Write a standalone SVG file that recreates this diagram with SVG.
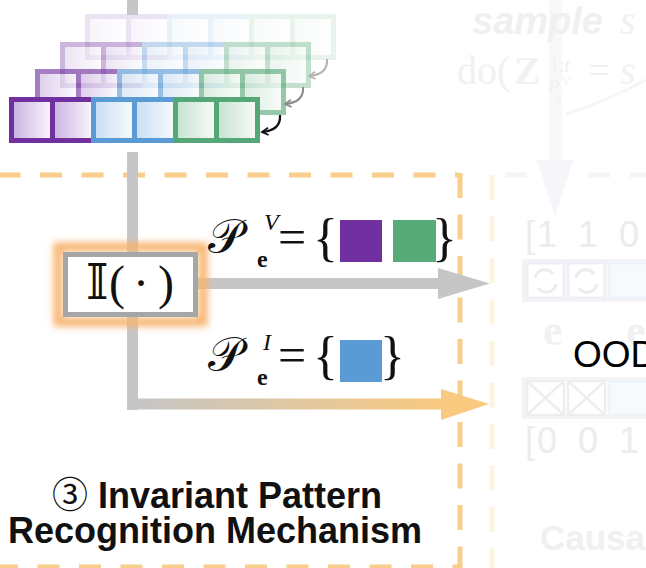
<svg xmlns="http://www.w3.org/2000/svg" width="646" height="568" viewBox="0 0 646 568">
  <style>
    .bar{fill:#C6C6C6}
    .dash{fill:none;stroke:#F8CE8A;stroke-width:5}
    .math{font-family:"Liberation Serif","DejaVu Serif",serif;fill:#111}
    .sans{font-family:"Liberation Sans","Noto Sans CJK SC",sans-serif}
    .ghost{fill:#F0F0F0}
  </style>
  <defs>
    <linearGradient id="gPur" x1="0" x2="1" y1="0" y2="0">
      <stop offset="0" stop-color="#C9B1DF"/><stop offset="1" stop-color="#FBF8FD"/>
    </linearGradient>
    <linearGradient id="gBlu" x1="0" x2="1" y1="0" y2="0">
      <stop offset="0" stop-color="#C8DCF2"/><stop offset="1" stop-color="#F8FBFE"/>
    </linearGradient>
    <linearGradient id="gGrn" x1="0" x2="1" y1="0" y2="0">
      <stop offset="0" stop-color="#C5E2D0"/><stop offset="1" stop-color="#F8FCF9"/>
    </linearGradient>
    <linearGradient id="gFlow" gradientUnits="userSpaceOnUse" x1="135" y1="0" x2="440" y2="0">
      <stop offset="0" stop-color="#C6C6C6"/><stop offset="1" stop-color="#F8C97F"/>
    </linearGradient>
    <filter id="glow" x="-20%" y="-40%" width="140%" height="180%">
      <feGaussianBlur stdDeviation="3.5"/>
    </filter>
    <marker id="hBlack" viewBox="0 0 10 10" refX="8" refY="5" markerWidth="9" markerHeight="9" markerUnits="userSpaceOnUse" orient="auto">
      <path d="M1,1 L8,5 L1,9" fill="none" stroke="#111" stroke-width="2"/>
    </marker>
    <marker id="hGray" viewBox="0 0 10 10" refX="8" refY="5" markerWidth="9" markerHeight="9" markerUnits="userSpaceOnUse" orient="auto">
      <path d="M1,1 L8,5 L1,9" fill="none" stroke="#8C8C8C" stroke-width="2"/>
    </marker>
    <marker id="hLight" viewBox="0 0 10 10" refX="8" refY="5" markerWidth="9" markerHeight="9" markerUnits="userSpaceOnUse" orient="auto">
      <path d="M1,1 L8,5 L1,9" fill="none" stroke="#B4B4B4" stroke-width="2"/>
    </marker>
    <!-- one sequence of six cells: two purple, two blue, two green -->
    <g id="seq">
      <rect x="2.5" y="2.5" width="41" height="41" fill="url(#gPur)" stroke="#7030A0" stroke-width="5"/>
      <rect x="43.5" y="2.5" width="41" height="41" fill="url(#gPur)" stroke="#7030A0" stroke-width="5"/>
      <rect x="84.5" y="2.5" width="41" height="41" fill="url(#gBlu)" stroke="#5B9BD5" stroke-width="5"/>
      <rect x="125.5" y="2.5" width="41" height="41" fill="url(#gBlu)" stroke="#5B9BD5" stroke-width="5"/>
      <rect x="166.5" y="2.5" width="41" height="41" fill="url(#gGrn)" stroke="#56A777" stroke-width="5"/>
      <rect x="207.5" y="2.5" width="41" height="41" fill="url(#gGrn)" stroke="#56A777" stroke-width="5"/>
    </g>
  </defs>

  <rect width="646" height="568" fill="#FFFFFF"/>

  <!-- faded neighbouring panel -->
  <g id="faded-panel">
    <path d="M492,175 V568" fill="none" stroke="#FDF3E3" stroke-width="5" stroke-dasharray="25 16.5"/>
    <path d="M505,175 H646" fill="none" stroke="#F6F4F8" stroke-width="5" stroke-dasharray="22 19.5"/>
    <rect x="549" y="0" width="13" height="162" fill="#F8F7FA"/>
    <polygon points="537,160 573,160 555,217" fill="#F6F5F9"/>
    <path d="M566,114 Q604,102 646,80" fill="none" stroke="#F6F6F6" stroke-width="3"/>
    <text x="472" y="34" class="sans ghost" font-size="38" font-weight="bold" font-style="italic">sample</text>
    <text x="620" y="34" class="math" font-size="40" font-style="italic" style="fill:#F0F0F0">s</text>
    <g class="math" style="fill:#F1F1F1">
      <text x="457" y="84" font-size="40">do(</text>
      <text x="514" y="84" font-size="40" font-weight="bold">Z</text>
      <text x="549" y="72" font-size="20">1:<tspan font-style="italic">t</tspan></text>
      <text x="548" y="93" font-size="19" font-style="italic">P</text>
      <text x="562" y="86" font-size="12" font-style="italic">V</text>
      <text x="556" y="104" font-size="12" font-weight="bold">e</text>
      <text x="588" y="84" font-size="40">=</text>
      <text x="620" y="84" font-size="40" font-style="italic">s</text>
    </g>
    <g class="sans" fill="#ECECEC" font-size="36">
      <text x="525" y="247">[</text>
      <text x="537" y="247">1</text>
      <text x="578" y="247">1</text>
      <text x="619" y="247">0</text>
      <text x="525" y="453">[</text>
      <text x="537" y="453">0</text>
      <text x="578" y="453">0</text>
      <text x="619" y="453">1</text>
    </g>
    <!-- upper cell row with refresh marks -->
    <rect x="524" y="261" width="130" height="39" fill="none" stroke="#F4F1F7" stroke-width="4"/>
    <rect x="527" y="263" width="37" height="35" fill="none" stroke="#F2EEF6" stroke-width="3"/>
    <rect x="568" y="263" width="37" height="35" fill="none" stroke="#F2EEF6" stroke-width="3"/>
    <rect x="609" y="263" width="40" height="35" fill="#F7FAFD" stroke="#EEF3FA" stroke-width="3"/>
    <g fill="none" stroke="#ECEBEE" stroke-width="3">
      <path d="M535,278 A10,10 0 0 1 553,274"/>
      <path d="M556,284 A10,10 0 0 1 538,288"/>
      <path d="M576,278 A10,10 0 0 1 594,274"/>
      <path d="M597,284 A10,10 0 0 1 579,288"/>
    </g>
    <g class="math" font-size="44" font-weight="bold" style="fill:#F1F1F1">
      <text x="543" y="345">e</text>
      <text x="626" y="345">e</text>
    </g>
    <!-- lower cell row with crossed cells -->
    <rect x="524" y="379" width="130" height="38" fill="none" stroke="#F4F4F4" stroke-width="4"/>
    <g fill="none" stroke="#EEEEEE" stroke-width="2.5">
      <rect x="527" y="381" width="37" height="34"/>
      <rect x="568" y="381" width="37" height="34"/>
      <path d="M527,381 L564,415 M564,381 L527,415 M568,381 L605,415 M605,381 L568,415"/>
    </g>
    <rect x="609" y="381" width="40" height="34" fill="#F7FAFD" stroke="#EEF3FA" stroke-width="3"/>
    <text x="540" y="550" class="sans" font-size="35" font-weight="bold" fill="#F0F0F0">Causa</text>
  </g>

  <!-- section frame -->
  <g id="frame">
    <path class="dash" d="M-1.5,175 H458" stroke-dasharray="22 19.5"/>
    <path class="dash" d="M460,173 V568" stroke-dasharray="25 16.5"/>
    <path class="dash" d="M-4,567 H458" stroke-dasharray="22 19.5"/>
  </g>

  <!-- stacked sequences -->
  <g id="sequence-stack">
    <use href="#seq" x="85" y="14" opacity="0.13"/>
    <use href="#seq" x="60" y="42" opacity="0.35"/>
    <use href="#seq" x="35" y="69" opacity="0.62"/>
    <use href="#seq" x="9" y="97"/>
  </g>

  <!-- connectors -->
  <g id="connectors">
    <rect class="bar" x="127" y="0" width="11" height="15"/>
    <rect class="bar" x="127" y="152" width="11" height="258"/>
    <rect x="127" y="398.5" width="318" height="11" fill="url(#gFlow)"/>
    <polygon points="441,389 489,404 441,420" fill="#F8C97F"/>
    <rect class="bar" x="195" y="278" width="248" height="11"/>
    <polygon points="438,268 490,283.5 438,299" fill="#C6C6C6"/>
    <path d="M327,59 C328,70 320,75 309,76" fill="none" stroke="#B4B4B4" stroke-width="2" marker-end="url(#hLight)"/>
    <path d="M303,87 C304,98 296,103 285,104" fill="none" stroke="#8C8C8C" stroke-width="2" marker-end="url(#hGray)"/>
    <path d="M280,115 C281,127 273,131 262,132" fill="none" stroke="#111" stroke-width="2.2" marker-end="url(#hBlack)"/>
  </g>

  <!-- indicator node -->
  <g id="indicator">
    <rect x="58" y="247" width="145" height="75" fill="none" stroke="#F7B36E" stroke-width="9" filter="url(#glow)"/>
    <rect x="65.5" y="254.5" width="130" height="60" fill="#FFFFFF" stroke="#A6A6A6" stroke-width="5"/>
    <g class="math" font-size="48">
      <text x="86" y="299">𝕀</text>
      <text x="109" y="299">(</text>
      <text x="141" y="299" text-anchor="middle">·</text>
      <text x="158" y="299">)</text>
    </g>
  </g>

  <!-- variant pattern set -->
  <g id="variant-set">
    <g class="math">
      <text x="208" y="253" font-size="48">𝒫</text>
      <text x="264" y="230" font-size="24" font-style="italic">V</text>
      <text x="257" y="267" font-size="24" font-weight="bold">e</text>
      <text x="278" y="254" font-size="50">=</text>
      <text x="313" y="255" font-size="52">{</text>
      <text x="432" y="255" font-size="52">}</text>
    </g>
    <rect x="340" y="220" width="42" height="42" fill="#7030A0"/>
    <rect x="393" y="220" width="43" height="42" fill="#57AB78"/>
  </g>

  <!-- invariant pattern set -->
  <g id="invariant-set">
    <g class="math">
      <text x="208" y="371" font-size="48">𝒫</text>
      <text x="263" y="350" font-size="24" font-style="italic">I</text>
      <text x="257" y="385" font-size="24" font-weight="bold">e</text>
      <text x="278" y="372" font-size="50">=</text>
      <text x="313" y="373" font-size="52">{</text>
      <text x="380" y="373" font-size="52">}</text>
    </g>
    <rect x="340" y="340" width="42" height="42" fill="#5B9BD5"/>
  </g>

  <!-- labels -->
  <text x="573" y="367" class="sans" font-size="37" fill="#000">OOD</text>
  <g id="title" class="sans" font-size="36" font-weight="bold" fill="#111" text-anchor="middle">
    <text x="217" y="508"><tspan font-weight="normal">③</tspan> Invariant Pattern</text>
    <text x="215" y="543">Recognition Mechanism</text>
  </g>
</svg>
